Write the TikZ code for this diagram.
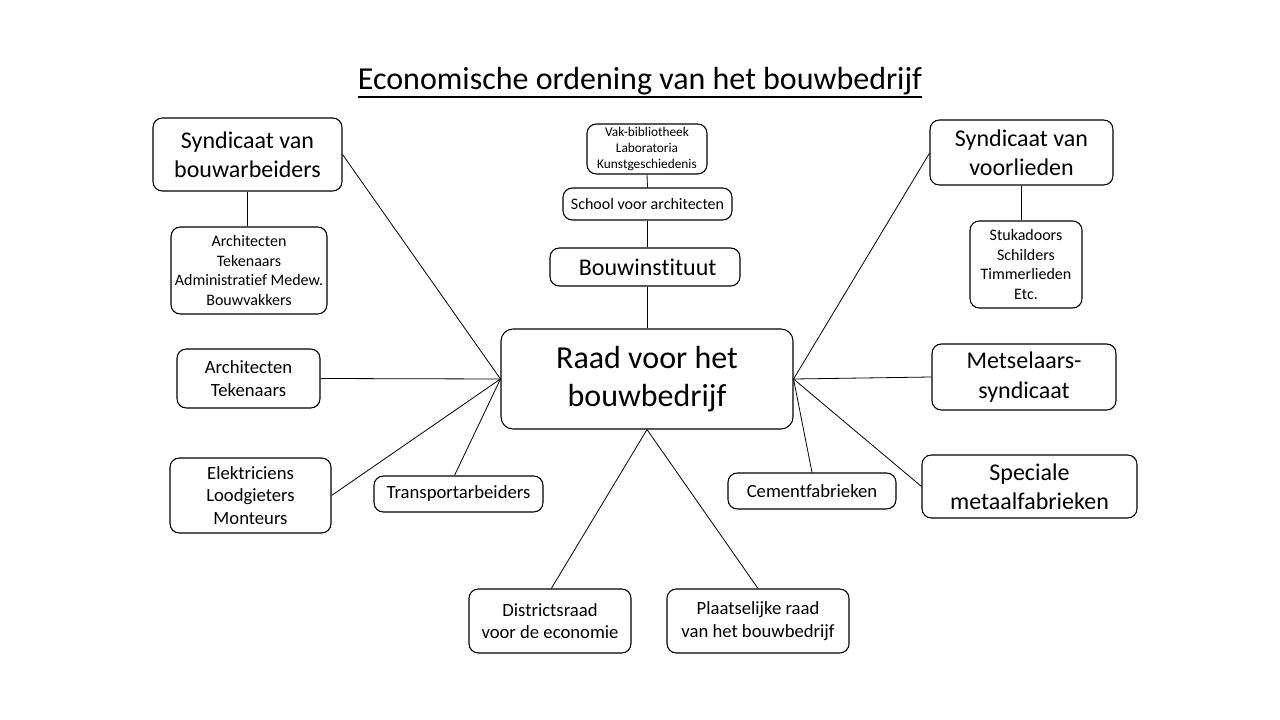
\documentclass[tikz,border=0pt]{standalone}
\usepackage{fontspec}
\setmainfont{Carlito}[Ligatures={NoCommon}]

\begin{document}
\begin{tikzpicture}[x=0.75pt,y=-0.75pt]
\tikzstyle{kader}=[rectangle,rounded corners=7pt,draw=black,line width=0.8pt,inner sep=0pt,align=center]
\tikzstyle{groot}=[kader,rounded corners=9pt,font=\fontsize{24}{29}\selectfont]
\tikzstyle{middel}=[kader,font=\fontsize{18}{22}\selectfont]
\tikzstyle{klein}=[kader,font=\fontsize{14}{17}\selectfont]
\tikzstyle{mini}=[kader,font=\fontsize{12}{14.6}\selectfont]
\tikzstyle{micro}=[kader,font=\fontsize{10}{12.2}\selectfont]
\tikzstyle{lijn}=[draw=black,line width=0.6pt]

\useasboundingbox (0,0) rectangle (1280,720);

\node[font=\fontsize{24}{29}\selectfont,anchor=base,inner sep=0pt] (titel) at (640,90) {Economische ordening van het bouwbedrijf};
\draw[line width=1.3pt] ([yshift=-5.3pt]titel.base west) -- ([yshift=-5.3pt]titel.base east);

% midden
\node[groot,minimum width=219pt,minimum height=75pt] (raad) at (647,379) {Raad voor het\\bouwbedrijf};
\node[middel,minimum width=142.5pt,minimum height=28.5pt] (bouwinst) at (645,267) {\hspace{4pt}Bouwinstituut};
\node[mini,minimum width=126.75pt,minimum height=24pt] (school) at (647.5,204) {School voor architecten};
\node[micro,minimum width=90pt,minimum height=37.5pt] (vakbib) at (647,149) {Vak-bibliotheek\\Laboratoria\\Kunstgeschiedenis};

% links
\node[middel,minimum width=141.75pt,minimum height=54.75pt] (synd_bouw) at (247.5,154.5) {Syndicaat van\\bouwarbeiders};
\node[mini,minimum width=117pt,minimum height=65.25pt] (arch_bouw) at (249,270.5) {Architecten\\Tekenaars\\Administratief Medew.\\Bouwvakkers};
\node[klein,minimum width=107.25pt,minimum height=44.25pt] (arch_tek) at (248.5,378.5) {Architecten\\Tekenaars};
\node[klein,minimum width=120.75pt,minimum height=56.25pt] (elektr) at (250.5,495.5) {Elektriciens\\Loodgieters\\Monteurs};
\node[klein,minimum width=126.75pt,minimum height=27pt] (transport) at (458.5,494) {Transportarbeiders};

% onder
\node[klein,minimum width=121.5pt,minimum height=48pt] (district) at (550,621) {Districtsraad\\voor de economie};
\node[klein,minimum width=136.5pt,minimum height=48pt] (plaats) at (758,621) {Plaatselijke raad\\van het bouwbedrijf};

% rechts
\node[klein,minimum width=126pt,minimum height=27pt] (cement) at (812,491) {Cementfabrieken};
\node[middel,minimum width=161.25pt,minimum height=47.25pt] (metaal) at (1029.5,486.5) {Speciale\\metaalfabrieken};
\node[middel,minimum width=138pt,minimum height=49.5pt] (metsel) at (1024,377) {Metselaars-\\syndicaat};
\node[middel,minimum width=137.25pt,minimum height=48.75pt] (synd_voor) at (1021.5,152.5) {Syndicaat van\\voorlieden};
\node[mini,minimum width=84pt,minimum height=65.25pt] (stuk) at (1026,264.5) {Stukadoors\\Schilders\\Timmerlieden\\Etc.};

\draw[lijn] (vakbib.south) -- (school.north);
\draw[lijn] (school.south) -- (school.south |- bouwinst.north);
\draw[lijn] (bouwinst.south -| raad.north) -- (raad.north);

\draw[lijn] (synd_bouw.south) -- (synd_bouw.south |- arch_bouw.north);
\draw[lijn] (synd_bouw.east) -- (raad.west);
\draw[lijn] (arch_tek.east) -- (raad.west);
\draw[lijn] (elektr.east) -- (raad.west);
\draw[lijn] ([xshift=-3pt]transport.north) -- (raad.west);

\draw[lijn] (raad.south) -- ([xshift=1pt]district.north);
\draw[lijn] (raad.south) -- (plaats.north);

\draw[lijn] (raad.east) -- (cement.north);
\draw[lijn] (raad.east) -- (metaal.west);
\draw[lijn] (raad.east) -- (metsel.west);
\draw[lijn] (raad.east) -- ([yshift=-0.5pt]synd_voor.west);
\draw[lijn] (synd_voor.south) -- (synd_voor.south |- stuk.north);
\end{tikzpicture}
\end{document}
